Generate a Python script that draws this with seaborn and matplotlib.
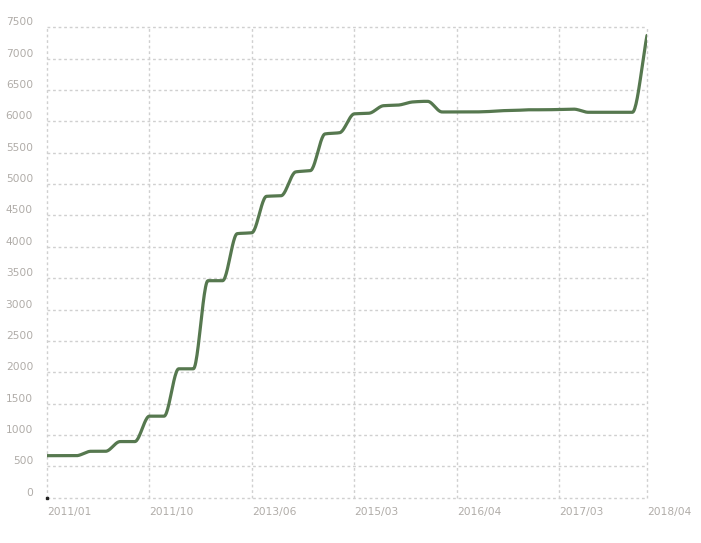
import numpy as np
import pandas as pd
import matplotlib
matplotlib.use('Agg')
import matplotlib.pyplot as plt
import seaborn as sns

# x categories: only every 7th label (plus the last) is shown on the axis
tick_pos = [0, 7, 14, 21, 28, 35, 41]
tick_labels = ['2011/01', '2011/10', '2013/06', '2015/03', '2016/04', '2017/03', '2018/04']

# series values, one per category
values = [670, 670, 670, 740, 740, 895, 895, 1300, 1300, 2055,
          2055, 3460, 3460, 4210, 4225, 4805, 4815, 5195, 5215, 5800,
          5820, 6120, 6130, 6250, 6260, 6310, 6320, 6150, 6150, 6150,
          6155, 6170, 6175, 6185, 6185, 6190, 6195, 6145, 6145, 6145,
          6145, 7370]

y_ticks = list(range(0, 7501, 500))

line_color = '#56784f'
grid_color = '#d0d0d0'
label_color = '#b0aca8'


# smooth line like the original (monotone cubic between the data points)
def monotone_curve(y, steps=24):
    y = np.asarray(y, dtype=float)
    d = np.diff(y)
    m = np.zeros(len(y))
    m[0] = d[0]
    m[-1] = d[-1]
    for i in range(1, len(y) - 1):
        if d[i - 1] * d[i] > 0:
            m[i] = 2.0 / (1.0 / d[i - 1] + 1.0 / d[i])
    xs, ys = [], []
    t = np.linspace(0, 1, steps, endpoint=False)
    h00 = 2 * t**3 - 3 * t**2 + 1
    h10 = t**3 - 2 * t**2 + t
    h01 = -2 * t**3 + 3 * t**2
    h11 = t**3 - t**2
    for i in range(len(y) - 1):
        xs.extend(i + t)
        ys.extend(h00 * y[i] + h10 * m[i] + h01 * y[i + 1] + h11 * m[i + 1])
    xs.append(len(y) - 1)
    ys.append(y[-1])
    return np.array(xs), np.array(ys)


sx, sy = monotone_curve(values)
df = pd.DataFrame({'x': sx, 'y': sy})

sns.set_style('white')
plt.rcParams['font.family'] = ['DejaVu Sans']

fig = plt.figure(figsize=(7.01, 5.43), dpi=100)
ax = fig.add_axes([47 / 701, 45.3 / 543, 600 / 701, 470.4 / 543])

sns.lineplot(data=df, x='x', y='y', ax=ax, color=line_color, linewidth=2.3,
             solid_capstyle='round', zorder=3)

ax.set_xlim(0, len(values) - 1)
ax.set_ylim(0, 7500)
ax.set_xticks(tick_pos)
ax.set_xticklabels(tick_labels)
ax.set_yticks(y_ticks)
ax.set_yticklabels([str(v) for v in y_ticks])

ax.grid(True, color=grid_color, linestyle=(0, (2, 2)), linewidth=1)
for gl in ax.get_xgridlines() + ax.get_ygridlines():
    gl.set_clip_on(False)
for s in ax.spines.values():
    s.set_visible(False)

ax.tick_params(axis='both', length=0, labelsize=7.7, labelcolor=label_color)
ax.tick_params(axis='y', pad=10)
ax.tick_params(axis='x', pad=7)
for lab in ax.get_yticklabels():
    lab.set_va('bottom')
for lab in ax.get_xticklabels():
    lab.set_ha('left')

ax.set_xlabel('')
ax.set_ylabel('')

# small dark mark at the origin
ax.plot([0], [0], marker='s', markersize=1.5, color='#222222', clip_on=False)

fig.savefig('out.png', dpi=100)
